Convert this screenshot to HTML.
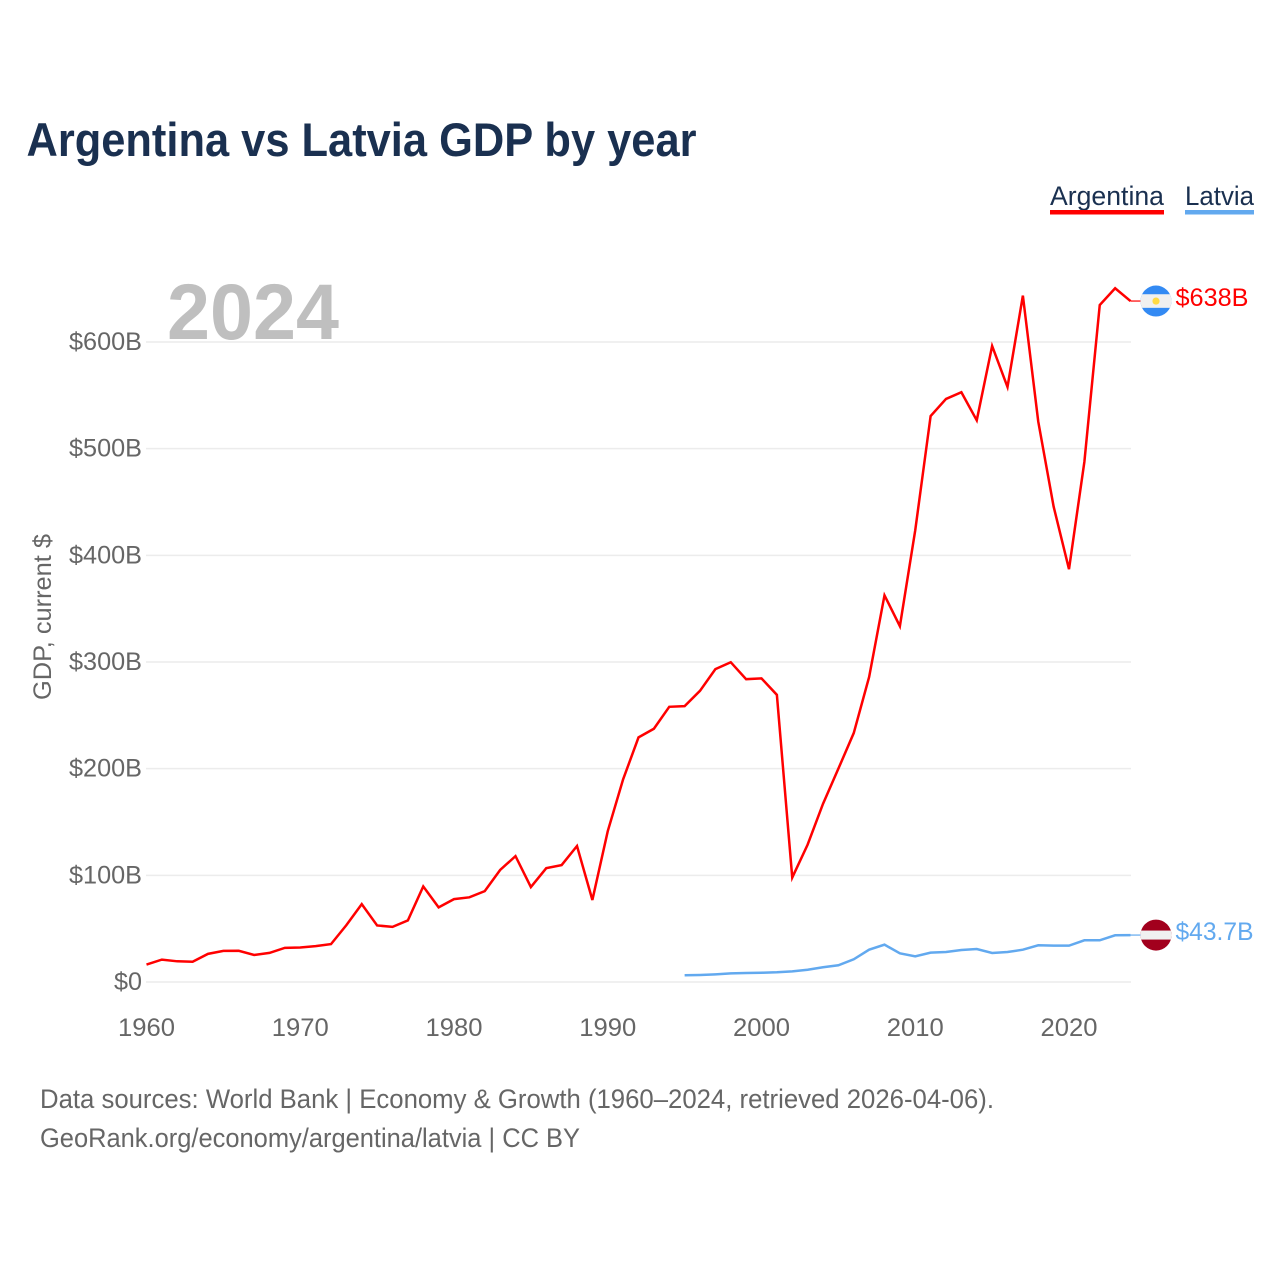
<!DOCTYPE html>
<html lang="en">
<head>
<meta charset="utf-8">
<title>Argentina vs Latvia GDP by year</title>
<style>
html,body{margin:0;padding:0;background:#fff;}
svg{display:block;font-family:"Liberation Sans",sans-serif;}
</style>
</head>
<body>
<svg id="chart" xmlns="http://www.w3.org/2000/svg" width="1280" height="1280" viewBox="0 0 1280 1280">
  <rect x="0" y="0" width="1280" height="1280" fill="#ffffff"/>
  <text x="26.5" y="156" font-size="47" font-weight="700" fill="#1a3050" textLength="670" lengthAdjust="spacingAndGlyphs">Argentina vs Latvia GDP by year</text>

  <g>
    <g>
      <text x="1050" y="205" font-size="27" fill="#1a3050" textLength="114" lengthAdjust="spacingAndGlyphs">Argentina</text>
      <rect x="1050" y="210" width="114" height="4.5" fill="#ff0000"/>
    </g>
    <g>
      <text x="1185" y="205" font-size="27" fill="#1a3050" textLength="69" lengthAdjust="spacingAndGlyphs">Latvia</text>
      <rect x="1185" y="210" width="69" height="4.5" fill="#62a9ef"/>
    </g>
  </g>

  <g id="grid"></g>
  <text x="167" y="339" font-size="79" font-weight="700" fill="#bfbfbf" textLength="172" lengthAdjust="spacingAndGlyphs">2024</text>
  <g id="yticks"></g>
  <g id="xticks"></g>
  <text transform="translate(51,700) rotate(-90)" font-size="25" fill="#666666" textLength="166" lengthAdjust="spacingAndGlyphs">GDP, current $</text>

  <g id="series"></g>
  <g id="ends"></g>

  <text x="40" y="1108" font-size="27" fill="#666666" textLength="954" lengthAdjust="spacingAndGlyphs">Data sources: World Bank | Economy &amp; Growth (1960–2024, retrieved 2026-04-06).</text>
  <text x="40" y="1147" font-size="27" fill="#666666" textLength="540" lengthAdjust="spacingAndGlyphs">GeoRank.org/economy/argentina/latvia | CC BY</text>
</svg>

<script>
const years = [1960,1961,1962,1963,1964,1965,1966,1967,1968,1969,1970,1971,1972,1973,1974,1975,1976,1977,1978,1979,1980,1981,1982,1983,1984,1985,1986,1987,1988,1989,1990,1991,1992,1993,1994,1995,1996,1997,1998,1999,2000,2001,2002,2003,2004,2005,2006,2007,2008,2009,2010,2011,2012,2013,2014,2015,2016,2017,2018,2019,2020,2021,2022,2023,2024];
const argentinaValues = [16.4,21,19.4,19,26.4,29.2,29.3,25.3,27.3,32,32.4,33.6,35.5,53.3,73,53,51.7,57.7,89.6,70,77.7,79.4,85.2,105,118,89,106.7,109.6,127.5,76.9,141.4,190,229.3,237.4,258,258.6,273,293.3,299.8,283.9,284.6,269.2,97.9,128.8,167,200,233.4,286,362.5,333.6,423.6,530.6,546.6,552.9,526.6,596.3,557.8,643.5,525.4,445.7,387,487.7,634.7,650.4,638.4];
const latviaValues = [null,null,null,null,null,null,null,null,null,null,null,null,null,null,null,null,null,null,null,null,null,null,null,null,null,null,null,null,null,null,null,null,null,null,null,6.3,6.6,7.2,8.1,8.4,8.7,9.1,10,11.5,13.8,15.7,21.3,30.3,35,26.9,24,27.5,28.1,30,30.9,27.2,28.1,30.3,34.4,34.1,34.1,39.1,39.1,43.8,44];
const yTickValues = [0,100,200,300,400,500,600];
const yTickLabels = ["$0","$100B","$200B","$300B","$400B","$500B","$600B"];
const xTickValues = [1960,1970,1980,1990,2000,2010,2020];
const argentinaLabel = "$638B";
const latviaLabel = "$43.7B";

const NS = "http://www.w3.org/2000/svg";
function xScale(year){ return 146.5 + (year - 1960) * 15.375; }
function yScale(value){ return 982 - value * 1.06667; }
function make(tag, parent, attrs){
  const el = document.createElementNS(NS, tag);
  for (const k in attrs) el.setAttribute(k, attrs[k]);
  parent.appendChild(el);
  return el;
}

const grid = document.getElementById("grid");
const yticks = document.getElementById("yticks");
yTickValues.forEach(function(v, i){
  const line = make("line", grid, {x1:146, x2:1131, y1:yScale(v), y2:yScale(v), stroke:"#ececec", "stroke-width":1.5});
  
  
  const t = make("text", yticks, {x:69 + (i === 0 ? 45 : 0), y:yScale(v) + 8, "font-size":25, fill:"#666666", textLength:(i === 0 ? 28 : 73), lengthAdjust:"spacingAndGlyphs"});
  
  
  t.textContent = yTickLabels[i];
});

const xticks = document.getElementById("xticks");
xTickValues.forEach(function(v){
  const t = make("text", xticks, {x:xScale(v) - 28.5, y:1036, "font-size":25, fill:"#666666", textLength:57, lengthAdjust:"spacingAndGlyphs"});
  
  
  t.textContent = String(v);
});

function linePath(values){
  let d = "";
  values.forEach(function(v, i){
    if (v === null) return;
    d += (d ? "L" : "M") + xScale(years[i]).toFixed(2) + " " + yScale(v).toFixed(2);
  });
  return d;
}

const series = document.getElementById("series");
const argLine = make("path", series, {d:linePath(argentinaValues), fill:"none", stroke:"#ff0000", "stroke-width":2.5, "stroke-linejoin":"miter"});


const latLine = make("path", series, {d:linePath(latviaValues), fill:"none", stroke:"#62a9ef", "stroke-width":2.5, "stroke-linejoin":"miter"});



const ends = document.getElementById("ends");
const lastYear = years[years.length - 1];
const argY = yScale(argentinaValues[argentinaValues.length - 1]);
const latY = yScale(latviaValues[latviaValues.length - 1]);

const argLead = make("line", ends, {x1:xScale(lastYear), x2:1141, y1:argY, y2:argY, stroke:"#ff0000", "stroke-width":1.2});


const latLead = make("line", ends, {x1:xScale(lastYear), x2:1141, y1:latY, y2:latY, stroke:"#62a9ef", "stroke-width":1.2});



const defs = make("defs", ends, {});
const c1 = make("clipPath", defs, {id:"clipA"});
make("circle", c1, {cx:1156, cy:argY, r:15.5});
const c2 = make("clipPath", defs, {id:"clipL"});
make("circle", c2, {cx:1156, cy:latY, r:15.5});

const flagA = make("g", ends, {"clip-path":"url(#clipA)"});


make("rect", flagA, {x:1140, y:argY - 16, width:32, height:32, fill:"#338af3"});
make("rect", flagA, {x:1140, y:argY - 6.8, width:32, height:13.6, fill:"#f0f0f0"});
make("circle", flagA, {cx:1156, cy:argY, r:3.6, fill:"#ffda44"});

const flagL = make("g", ends, {"clip-path":"url(#clipL)"});


make("rect", flagL, {x:1140, y:latY - 16, width:32, height:32, fill:"#a2001d"});
make("rect", flagL, {x:1140, y:latY - 4.5, width:32, height:9, fill:"#f0f0f0"});

const argText = make("text", ends, {x:1175.5, y:argY + 5, "font-size":25, fill:"#ff0000", textLength:73, lengthAdjust:"spacingAndGlyphs"});


argText.textContent = argentinaLabel;
const latText = make("text", ends, {x:1175.5, y:latY + 5, "font-size":25, fill:"#62a9ef", textLength:78, lengthAdjust:"spacingAndGlyphs"});


latText.textContent = latviaLabel;
</script>
</body>
</html>
